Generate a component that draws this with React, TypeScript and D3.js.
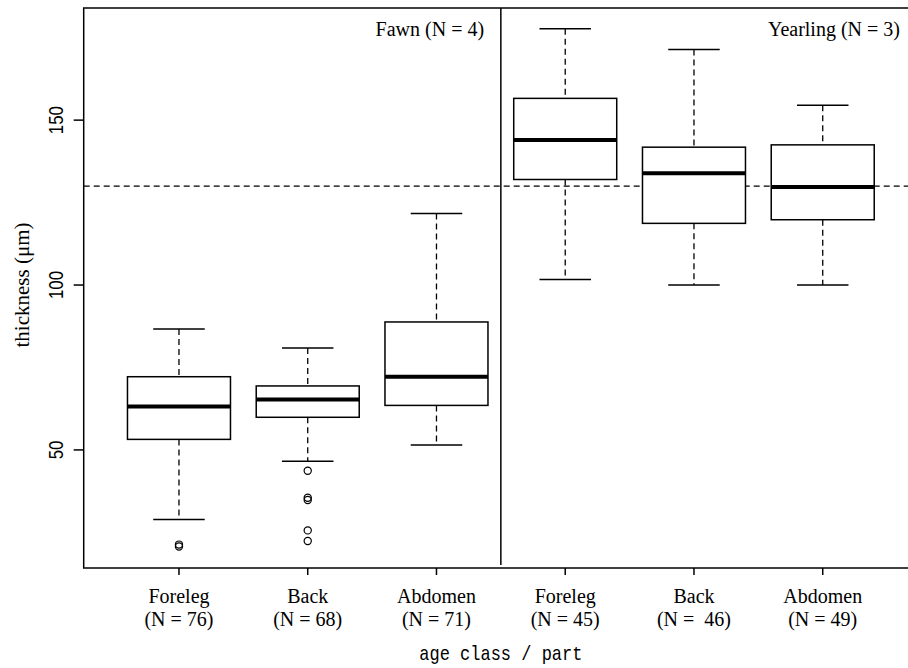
import React from 'react';
import * as d3 from 'd3';

// values
const parts = ['Foreleg', 'Back', 'Abdomen', 'Foreleg', 'Back', 'Abdomen'];
const nLabels = ['(N = 76)', '(N = 68)', '(N = 71)', '(N = 45)', '(N =  46)', '(N = 49)'];
const lowerWhisker = [28.9, 46.6, 51.5, 101.7, 100, 100];
const q1 = [53.2, 59.9, 63.5, 132.0, 118.7, 119.8];
const median = [63.2, 65.3, 72.2, 144.0, 133.9, 129.7];
const q3 = [72.2, 69.4, 88.8, 156.6, 141.8, 142.5];
const upperWhisker = [86.7, 80.9, 121.7, 177.7, 171.4, 154.5];
const outliers: number[][] = [[21.3, 20.7], [43.7, 35.5, 34.8, 25.6, 22.4], [], [], [], []];
const groupTitles = ['Fawn (N = 4)', 'Yearling (N = 3)'];
const yTicks = [50, 100, 150];
const refLine = 130;

const W = 908;
const H = 668;

const serif = '"Liberation Serif", "Times New Roman", serif';
const sans = '"Liberation Sans", Arial, sans-serif';

export default function App() {
    const x = d3.scaleLinear().domain([0.26, 6.74]).range([83.7, 918]);
    const y = d3.scaleLinear().domain([14.2, 184]).range([568, 8]);
    const boxW = (x(1) - x(0)) * 0.8;
    const capW = boxW * 0.5;
    const left = x.range()[0];
    const right = x.range()[1];
    const top = y.range()[1];
    const bottom = y.range()[0];
    const dash = '6,4';

    return (
        <svg width={W} height={H} style={{position: 'absolute', left: 0, top: 0, background: '#fff'}}>
            <rect x={0} y={0} width={W} height={H} fill="#fff"/>

            {/* reference line */}
            <line x1={left} x2={right} y1={y(refLine)} y2={y(refLine)}
                  stroke="#000" strokeWidth={1.3} strokeDasharray={dash}/>

            {/* divider between age classes */}
            <line x1={x(3.5)} x2={x(3.5)} y1={top} y2={bottom - 3} stroke="#000" strokeWidth={1.5}/>

            {parts.map((p, i) => {
                const cx = x(i + 1);
                return (
                    <g key={i}>
                        <line x1={cx} x2={cx} y1={y(upperWhisker[i])} y2={y(q3[i])}
                              stroke="#000" strokeWidth={1.3} strokeDasharray={dash}/>
                        <line x1={cx} x2={cx} y1={y(q1[i])} y2={y(lowerWhisker[i])}
                              stroke="#000" strokeWidth={1.3} strokeDasharray={dash}/>
                        <line x1={cx - capW / 2} x2={cx + capW / 2} y1={y(upperWhisker[i])} y2={y(upperWhisker[i])}
                              stroke="#000" strokeWidth={1.5}/>
                        <line x1={cx - capW / 2} x2={cx + capW / 2} y1={y(lowerWhisker[i])} y2={y(lowerWhisker[i])}
                              stroke="#000" strokeWidth={1.5}/>
                        <rect x={cx - boxW / 2} y={y(q3[i])} width={boxW} height={y(q1[i]) - y(q3[i])}
                              fill="#fff" stroke="#000" strokeWidth={1.5}/>
                        <line x1={cx - boxW / 2} x2={cx + boxW / 2} y1={y(median[i])} y2={y(median[i])}
                              stroke="#000" strokeWidth={4}/>
                        {outliers[i].map((v, j) => (
                            <circle key={j} cx={cx} cy={y(v)} r={3.6} fill="none" stroke="#000" strokeWidth={1.2}/>
                        ))}
                        <line x1={cx} x2={cx} y1={bottom} y2={bottom + 7} stroke="#000" strokeWidth={1.5}/>
                        <text x={cx} y={603} textAnchor="middle" fontFamily={serif} fontSize={20}>{p}</text>
                        <text x={cx} y={626} textAnchor="middle" fontFamily={serif} fontSize={20}
                              style={{whiteSpace: 'pre'}}>{nLabels[i]}</text>
                    </g>
                );
            })}

            {/* frame */}
            <rect x={left} y={top} width={right - left} height={bottom - top}
                  fill="none" stroke="#000" strokeWidth={1.5}/>

            {/* group titles */}
            <text x={x(3.37)} y={36} textAnchor="end" fontFamily={serif} fontSize={20}>{groupTitles[0]}</text>
            <text x={x(6.6)} y={36} textAnchor="end" fontFamily={serif} fontSize={20}>{groupTitles[1]}</text>

            {/* y axis */}
            {yTicks.map(t => (
                <g key={t}>
                    <line x1={left - 10} x2={left} y1={y(t)} y2={y(t)} stroke="#000" strokeWidth={1.5}/>
                    <text transform={`translate(63,${y(t)}) rotate(-90) scale(0.84,1)`} textAnchor="middle"
                          fontFamily={sans} fontSize={20}>{t}</text>
                </g>
            ))}
            <text transform={`translate(29,${(top + bottom) / 2 - 3}) rotate(-90)`} textAnchor="middle"
                  fontFamily={serif} fontSize={21}>thickness (μm)</text>

            {/* x axis title */}
            <text transform={`translate(${(left + right) / 2},660) scale(1,1.2)`} textAnchor="middle"
                  fontFamily='"Liberation Mono", "DejaVu Sans Mono", monospace' fontSize={17}
                  style={{whiteSpace: 'pre'}}>age class / part</text>
        </svg>
    );
}
